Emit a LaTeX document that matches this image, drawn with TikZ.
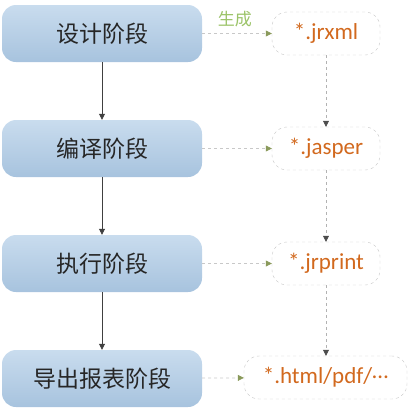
\documentclass[tikz,border=0pt]{standalone}
\usepackage{fontspec}
\setmainfont{Carlito}
\newfontfamily\cjk{Noto Sans CJK SC}
\usetikzlibrary{arrows.meta}
\definecolor{stagetop}{HTML}{C9DCEE}
\definecolor{stagebot}{HTML}{A7C3DE}
\definecolor{filecol}{HTML}{D2691E}
\definecolor{genlab}{HTML}{9BC368}
\definecolor{headgreen}{HTML}{8A9A5B}
\definecolor{dashgray}{HTML}{C8C8C8}
\tikzset{
  stagebox/.style={rounded corners=14pt, top color=stagetop, bottom color=stagebot, draw=none,
    minimum width=200pt, minimum height=57pt, inner sep=0pt, font=\cjk\fontsize{23}{27}\selectfont, text=black!85},
  filebox/.style={rounded corners=15pt, draw=dashgray, dashed, fill=white,
    minimum height=43pt, inner sep=0pt, font=\fontsize{23}{27}\selectfont, text=filecol},
  flow/.style={draw=black!75, line width=0.8pt, -{Triangle[length=6pt,width=6pt]}},
  gen/.style={draw=dashgray, dashed, line width=0.7pt, -{Triangle[length=6pt,width=6pt,fill=headgreen,color=headgreen]}},
  fflow/.style={draw=black!30, dashed, line width=0.7pt, -{Triangle[length=6pt,width=6pt,fill=black!70,color=black!70]}},
}
\begin{document}
\begin{tikzpicture}[x=1pt,y=-1pt]
\useasboundingbox (0,0) rectangle (409,408);
\node[stagebox] (s1) at (102,33.5) {设计阶段};
\node[stagebox] (s2) at (102,148.5) {编译阶段};
\node[stagebox] (s3) at (102,263.5) {执行阶段};
\node[stagebox] (s4) at (102,378.5) {导出报表阶段};
\node[filebox, minimum width=108pt] (f1) at (326,33.5) {*.jrxml};
\node[filebox, minimum width=108pt] (f2) at (326,148.5) {*.jasper};
\node[filebox, minimum width=108pt] (f3) at (326,263.5) {*.jrprint};
\node[filebox, minimum width=163pt] (f4) at (325.5,377.5) {*.html/pdf/\raisebox{5pt}{\symbol{"2026}}};
\draw[flow] (s1) -- (s2);
\draw[flow] (s2) -- (s3);
\draw[flow] (s3) -- (s4);
\draw[gen] (s1) -- node[above=3pt, font=\cjk\fontsize{17}{20}\selectfont, text=genlab, pos=0.47] (lab) {生成} (f1);
\draw[gen] (s2) -- (f2);
\draw[gen] (s3) -- (f3);
\draw[gen] (s4) -- (f4);
\draw[fflow] (f1) -- (f2);
\draw[fflow] (f2) -- (f3);
\draw[fflow] (f3) -- (f4.north -| f3);
\end{tikzpicture}
\end{document}
